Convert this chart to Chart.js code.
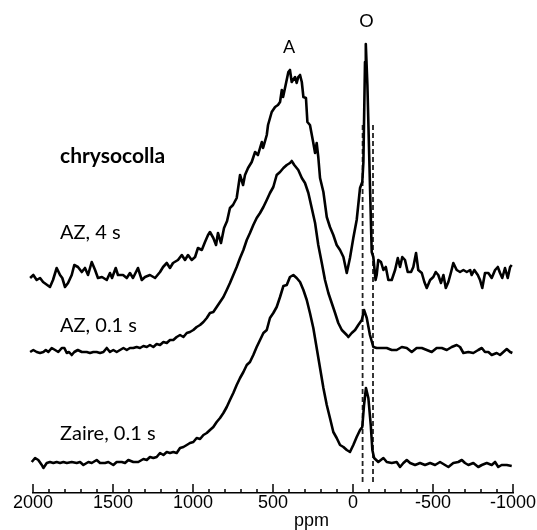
<!DOCTYPE html>
<html>
<head>
<meta charset="utf-8">
<script src="https://cdn.jsdelivr.net/npm/chart.js@4.4.1/dist/chart.umd.min.js"></script>
<style>
  html, body { margin: 0; padding: 0; background: #fff; }
  canvas { display: block; }
</style>
</head>
<body>
<canvas id="nmr" width="537" height="530"></canvas>
<script>
// Spectra: chemical shift (ppm) and intensity above each baseline
const ppmAZ4 = [2018,1998,1977,1956,1937,1894,1875,1852,1831,1817,1800,1781,1758,1742,1719,1695,1675,1656,1633,1612,1594,1569,1539,1519,1506,1483,1469,1437,1414,1394,1375,1344,1320,1300,1269,1237,1206,1187,1164,1144,1125,1094,1070,1050,1031,1008,987,969,945,925,906,894,873,856,844,825,806,787,769,750,727,706,687,675,656,633,612,594,570,562,539,531,508,487,469,456,445,437,425,404,394,383,362,352,342,331,320,310,294,285,269,248,237,227,217,206,185,164,144,123,102,81,60,39,19,-2,-23,-44,-58,-65,-75,-80,-90,-106,-117,-127,-141,-148,-158,-175,-190,-205,-221,-242,-263,-280,-294,-308,-325,-342,-363,-377,-394,-408,-430,-446,-461,-482,-502,-517,-533,-550,-565,-580,-596,-613,-627,-648,-669,-690,-711,-732,-742,-758,-780,-794,-808,-825,-846,-867,-888,-905,-919,-933,-950,-967,-982,-992];
const intAZ4 = [-2,1,-4,-2,-6,-11,-4,8,1,-2,-11,-7,1,11,9,4,8,1,14,6,-2,-1,-4,3,-2,8,1,1,-2,3,-2,8,-4,-1,1,-2,4,9,13,8,13,16,21,16,21,16,19,28,26,34,41,44,38,31,43,33,48,55,68,71,78,101,91,101,108,114,124,121,134,128,141,151,164,169,171,174,186,179,188,204,206,194,199,193,199,201,194,179,178,154,151,133,123,133,119,98,84,59,49,41,31,26,19,3,18,38,56,88,94,114,214,232,191,91,24,19,-4,1,16,14,6,9,-4,-4,6,18,9,19,16,4,4,9,23,6,3,-6,-12,-4,-1,4,1,-7,1,-12,-6,4,13,6,4,6,4,6,1,6,1,-4,-12,3,3,-2,6,9,3,-2,8,-2,9,11];

const ppmAZ01 = [2018,1998,1977,1956,1935,1920,1904,1883,1862,1842,1820,1804,1789,1775,1758,1742,1720,1695,1664,1644,1623,1602,1581,1560,1539,1519,1498,1477,1456,1435,1414,1394,1373,1352,1331,1310,1289,1269,1248,1227,1206,1185,1164,1144,1123,1102,1081,1060,1039,1019,998,977,956,935,914,894,873,852,831,810,789,769,748,727,706,685,664,644,623,602,581,560,539,519,498,477,456,435,414,394,383,367,342,320,300,279,258,237,217,195,175,154,133,112,92,70,39,29,8,-13,-33,-55,-69,-86,-106,-127,-148,-180,-211,-242,-273,-305,-336,-367,-398,-430,-461,-492,-523,-555,-586,-617,-648,-669,-690,-721,-752,-783,-805,-825,-846,-867,-898,-919,-940,-961,-982,-996];
const intAZ01 = [0,2,0,-1,0,2,0,4,2,0,4,4,-1,0,-3,0,2,0,0,-1,0,0,-1,0,4,0,2,0,2,4,2,4,4,5,4,6,5,7,5,8,7,10,9,12,12,15,17,15,19,20,22,25,27,30,34,39,40,45,50,55,62,69,77,85,94,102,112,119,127,134,139,145,152,159,165,177,180,184,187,189,191,187,182,174,169,159,144,129,107,89,72,59,49,39,29,22,17,15,19,22,27,32,42,34,17,5,4,4,4,2,2,5,4,0,4,4,2,0,4,4,2,5,7,5,-1,0,-1,2,4,0,0,-3,-1,-3,0,3,0,-1];

const ppmZaire = [2008,1987,1967,1945,1935,1914,1894,1873,1852,1831,1810,1789,1758,1727,1706,1685,1654,1633,1602,1581,1550,1529,1498,1477,1445,1425,1404,1373,1342,1310,1289,1269,1248,1227,1206,1185,1164,1144,1123,1102,1081,1060,1039,1019,998,977,956,935,914,894,873,852,831,810,789,769,748,727,706,685,664,644,623,602,581,560,539,519,498,477,456,435,414,394,373,352,331,310,289,269,248,227,206,185,164,144,123,102,81,60,39,19,-2,-23,-44,-58,-69,-81,-96,-111,-121,-132,-158,-190,-211,-242,-273,-294,-315,-336,-357,-388,-419,-450,-482,-513,-544,-575,-596,-627,-658,-680,-700,-721,-752,-783,-805,-836,-867,-888,-908,-929,-961,-992];
const intZaire = [1,5,3,-2,-5,0,1,0,1,0,1,0,1,0,1,-2,1,0,3,0,0,1,-2,1,1,0,3,1,1,4,3,6,5,6,10,8,11,10,11,10,15,16,18,20,21,25,24,28,30,33,36,41,45,50,56,63,70,78,85,91,98,101,108,116,123,130,133,145,150,156,166,177,178,186,188,185,181,173,163,150,135,115,95,75,58,45,31,25,18,16,13,11,18,26,33,36,58,75,65,38,13,5,1,5,1,0,1,-4,0,3,0,-2,0,-2,0,-2,1,-2,-4,0,1,3,0,-2,0,-4,-2,0,-2,1,-4,-2,-2,-3];

const traces = [
  { ppm: ppmAZ4, int: intAZ4, offset: 217 },
  { ppm: ppmAZ01, int: intAZ01, offset: 141 },
  { ppm: ppmZaire, int: intZaire, offset: 30 }
];

const traceLabels = ['AZ, 4 s', 'AZ, 0.1 s', 'Zaire, 0.1 s'];
const guidePpm = [-60, -125];
const guideSpan = [11, 371];

const datasets = traces.map(t => ({
  data: t.ppm.map((p, i) => ({ x: p, y: t.offset + t.int[i] })),
  borderColor: '#000',
  borderWidth: 2.6,
  pointRadius: 0,
  tension: 0,
  borderJoinStyle: 'round',
  clip: false
}));

guidePpm.forEach(p => {
  datasets.push({
    data: guideSpan.map(y => ({ x: p, y: y })),
    borderColor: '#222',
    borderWidth: 1.8,
    borderDash: [5, 3],
    pointRadius: 0
  });
});

// text placed in data coordinates
const notes = [
  { text: 'chrysocolla', ppm: 1831, y: 337, font: 'bold 21px Lato', align: 'left' },
  { text: traceLabels[0], ppm: 1831, y: 260, font: '20px Lato', align: 'left' },
  { text: traceLabels[1], ppm: 1831, y: 167, font: '20px Lato', align: 'left' },
  { text: traceLabels[2], ppm: 1831, y: 59, font: '20px Lato', align: 'left' },
  { text: 'A', ppm: 400, y: 446, font: '18px Lato', align: 'center' },
  { text: 'O', ppm: -84, y: 472, font: '18px Lato', align: 'center' }
];

const decor = {
  id: 'decor',
  afterDraw(chart) {
    const c = chart.ctx;
    const xs = chart.scales.x;
    const ys = chart.scales.y;
    const bottom = chart.chartArea.bottom;
    c.save();
    // tick marks point up into the plot, labels every 500 ppm
    c.strokeStyle = '#000';
    c.lineWidth = 1.5;
    c.fillStyle = '#000';
    c.font = '18px "Liberation Sans", Arial';
    c.textAlign = 'center';
    c.textBaseline = 'middle';
    xs.ticks.forEach(t => {
      const px = xs.getPixelForValue(t.value);
      const major = t.value % 500 === 0;
      c.beginPath();
      c.moveTo(px, bottom);
      c.lineTo(px, bottom - (major ? 9 : 4));
      c.stroke();
      if (major) c.fillText(t.label, px, bottom + 10);
    });
    c.textBaseline = 'alphabetic';
    c.fillText('ppm', xs.getPixelForValue(260), 526);

    c.textBaseline = 'middle';
    notes.forEach(n => {
      c.font = n.font;
      c.textAlign = n.align;
      c.fillText(n.text, xs.getPixelForValue(n.ppm), ys.getPixelForValue(n.y));
    });
    c.restore();
  }
};

const ctx = document.getElementById('nmr').getContext('2d');
const chart = new Chart(ctx, {
  type: 'line',
  data: { datasets: datasets },
  options: {
    responsive: false,
    animation: false,
    layout: { padding: { left: 33, right: 24, top: 0, bottom: 37 } },
    plugins: { legend: { display: false }, tooltip: { enabled: false } },
    scales: {
      x: {
        type: 'linear',
        reverse: true,
        min: -1000,
        max: 2000,
        ticks: {
          display: false,
          stepSize: 100,
          autoSkip: false,
          callback: v => String(v)
        },
        grid: { drawOnChartArea: false, drawTicks: false },
        border: { display: true, color: '#000', width: 1.5 }
      },
      y: { display: false, min: 0, max: 493 }
    }
  },
  plugins: [decor]
});
</script>
</body>
</html>
